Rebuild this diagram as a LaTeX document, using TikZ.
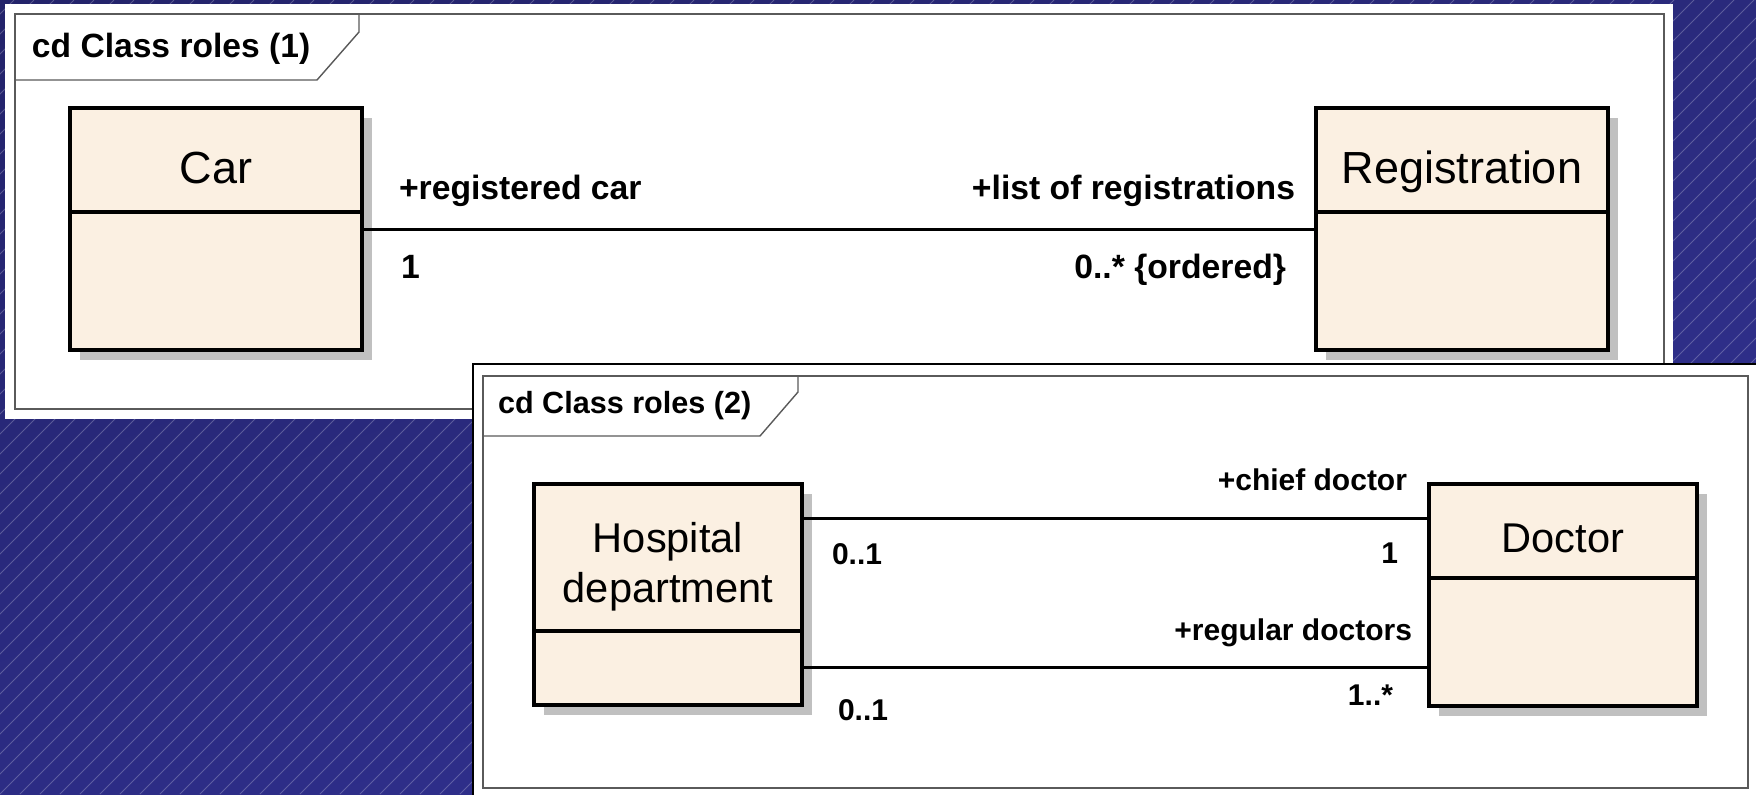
\documentclass[tikz,border=0pt]{standalone}
\usepackage{fontspec}
\setmainfont{Liberation Sans}
\usetikzlibrary{shadows,shadings}
\definecolor{bgUL}{HTML}{23236A}
\definecolor{bgUR}{HTML}{2A2A7C}
\definecolor{bgLL}{HTML}{2C2C84}
\definecolor{bgLR}{HTML}{343498}
\definecolor{classfill}{HTML}{FBF0E2}
\definecolor{shadowgray}{HTML}{C0C0C0}
\definecolor{framegray}{HTML}{5A5A5A}
\begin{document}
\begin{tikzpicture}[x=0.5pt,y=-0.5pt,
  stripe/.style={draw=white, draw opacity=0.24, line width=0.45pt},
  frameline/.style={draw=framegray, line width=0.7pt},
  classbox/.style={rectangle, draw=black, line width=1.75pt, fill=classfill, inner sep=0pt,
    drop shadow={shadow xshift=5pt, shadow yshift=-5pt, fill=shadowgray, opacity=1}},
  compline/.style={draw=black, line width=1.6pt},
  assoc/.style={draw=black, line width=1.5pt},
  txt/.style={inner sep=0pt, outer sep=0pt},
  titleA/.style={txt, anchor=base west, font=\fontsize{16.8}{20}\selectfont\bfseries},
  titleB/.style={txt, anchor=base west, font=\fontsize{15.3}{18}\selectfont\bfseries},
  roleA/.style={txt, font=\fontsize{16.85}{20}\selectfont\bfseries},
  roleB/.style={txt, font=\fontsize{15}{18}\selectfont\bfseries},
  nameA/.style={txt, anchor=base, font=\fontsize{22.5}{26}\selectfont},
  nameB/.style={txt, anchor=base, font=\fontsize{20.8}{24}\selectfont}]
\useasboundingbox (0,0) rectangle (1756,794);

% backdrop: blue gradient with fine diagonal hatching
\shade[upper left=bgUL, upper right=bgUR, lower left=bgLL, lower right=bgLR]
  (0,0) rectangle (1756,794);
\begin{scope}
  \clip (0,0) rectangle (1756,794);
  \foreach \c in {-800,-780,...,1760}
    \draw[stripe] (\c,794) -- ++(794,-794);
\end{scope}

% ---------------- diagram 1 ----------------
\fill[white] (5,4) rectangle (1673,419);
\draw[frameline] (15,14) rectangle (1664,409);
\draw[frameline] (15,80) -- (317,80) -- (359,32) -- (359,14);
\node[titleA] (t1) at (32,57) {cd Class roles (1)};

\node[classbox, minimum width=146pt, minimum height=121pt] (car) at (216,229) {};
\node[classbox, minimum width=146pt, minimum height=121pt] (reg) at (1462,229) {};
\draw[compline] (car.west |- 0,212) -- (car.east |- 0,212);
\draw[compline] (reg.west |- 0,212) -- (reg.east |- 0,212);
\node[nameA] (carname) at (car.center |- 0,183) {Car};
\node[nameA] (regname) at (reg.center |- 0,183) {Registration};

\draw[assoc] (car.east) -- (reg.west);
\node[roleA, anchor=base west] (rcar) at (399,199) {+registered car};
\node[roleA, anchor=base west] (mcar) at (401,278) {1};
\node[roleA, anchor=base east] (rreg) at (1295,199) {+list of registrations};
\node[roleA, anchor=base east] (mreg) at (1286,278) {0..* \{ordered\}};

% ---------------- diagram 2 ----------------
\filldraw[fill=white, draw=black, line width=1.2pt] (473,364) rectangle (1770,810);
\draw[frameline] (483,376) rectangle (1748,788);
\draw[frameline] (483,436) -- (760,436) -- (798,392) -- (798,376);
\node[titleB] (t2) at (498,413) {cd Class roles (2)};

\node[classbox, minimum width=134pt, minimum height=110.5pt] (hosp) at (668,594.5) {};
\node[classbox, minimum width=134pt, minimum height=111pt] (doc) at (1563,595) {};
\draw[compline] (hosp.west |- 0,631) -- (hosp.east |- 0,631);
\draw[compline] (doc.west |- 0,578) -- (doc.east |- 0,578);
\node[nameB] (hospname1) at (hosp.center |- 0,552) {Hospital};
\node[nameB] (hospname2) at (hosp.center |- 0,602) {department};
\node[nameB] (docname) at (doc.center |- 0,552) {Doctor};

\draw[assoc] (hosp.east |- 0,518) -- (doc.west |- 0,518);
\draw[assoc] (hosp.east |- 0,667) -- (doc.west |- 0,667);
\node[roleB, anchor=base west] (mhosp1) at (832,564) {0..1};
\node[roleB, anchor=base west] (mhosp2) at (838,720) {0..1};
\node[roleB, anchor=base east] (rchief) at (1407,490) {+chief doctor};
\node[roleB, anchor=base east] (mchief) at (1398,563) {1};
\node[roleB, anchor=base east] (rregular) at (1412,640) {+regular doctors};
\node[roleB, anchor=base east] (mregular) at (1393,705) {1..*};
\end{tikzpicture}
\end{document}
